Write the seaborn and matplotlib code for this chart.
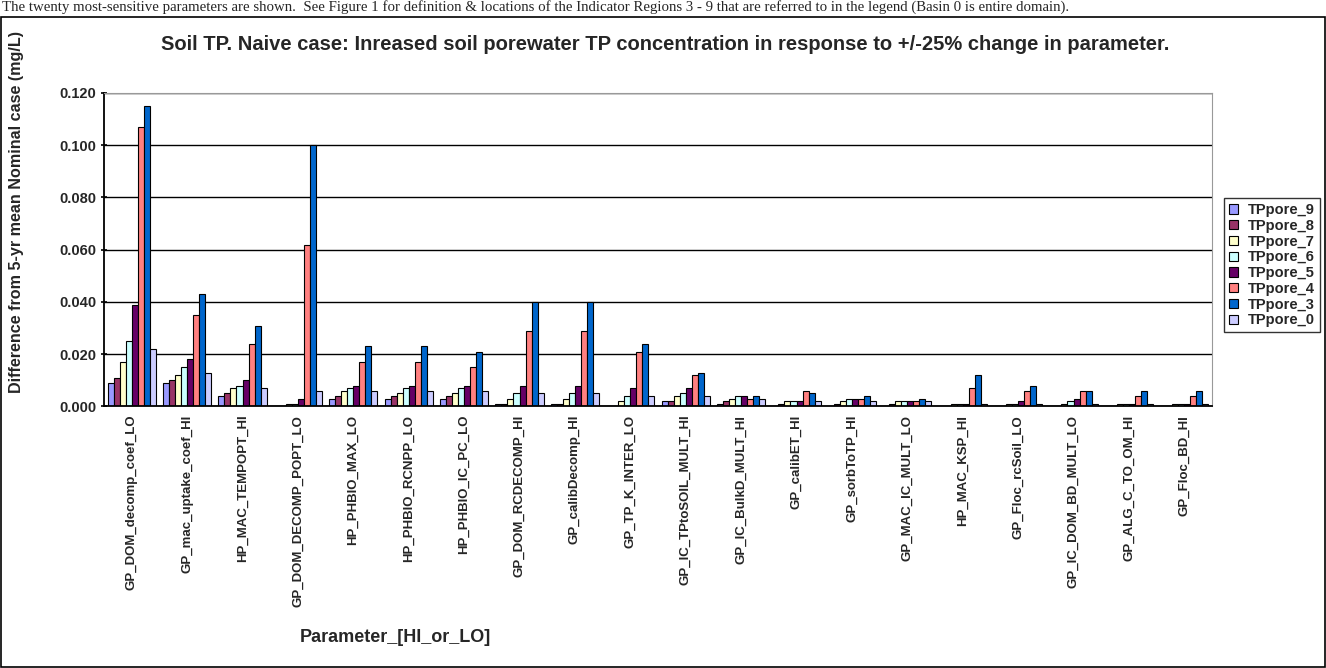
import seaborn as sns
import matplotlib.pyplot as plt
import matplotlib.patches as patches
import pandas as pd
import numpy as np

# Data
params = ['GP_DOM_decomp_coef_LO', 'GP_mac_uptake_coef_HI', 'HP_MAC_TEMPOPT_HI',
          'GP_DOM_DECOMP_POPT_LO', 'HP_PHBIO_MAX_LO', 'HP_PHBIO_RCNPP_LO',
          'HP_PHBIO_IC_PC_LO', 'GP_DOM_RCDECOMP_HI', 'GP_calibDecomp_HI',
          'GP_TP_K_INTER_LO', 'GP_IC_TPtoSOIL_MULT_HI', 'GP_IC_BulkD_MULT_HI',
          'GP_calibET_HI', 'GP_sorbToTP_HI', 'GP_MAC_IC_MULT_LO', 'HP_MAC_KSP_HI',
          'GP_Floc_rcSoil_LO', 'GP_IC_DOM_BD_MULT_LO', 'GP_ALG_C_TO_OM_HI', 'GP_Floc_BD_HI']
series = ['TPpore_9', 'TPpore_8', 'TPpore_7', 'TPpore_6',
          'TPpore_5', 'TPpore_4', 'TPpore_3', 'TPpore_0']

tp9 = [0.009, 0.009, 0.004, 0.000, 0.003, 0.003, 0.003, 0.001, 0.001, 0.000,
       0.002, 0.001, 0.000, 0.000, 0.000, 0.000, 0.000, 0.000, 0.000, 0.000]
tp8 = [0.011, 0.010, 0.005, 0.000, 0.004, 0.004, 0.004, 0.001, 0.001, 0.000,
       0.002, 0.002, 0.001, 0.001, 0.001, 0.000, 0.000, 0.000, 0.000, 0.000]
tp7 = [0.017, 0.012, 0.007, 0.001, 0.006, 0.005, 0.005, 0.003, 0.003, 0.002,
       0.004, 0.003, 0.002, 0.002, 0.002, 0.001, 0.001, 0.001, 0.001, 0.001]
tp6 = [0.025, 0.015, 0.008, 0.001, 0.007, 0.007, 0.007, 0.005, 0.005, 0.004,
       0.005, 0.004, 0.002, 0.003, 0.002, 0.001, 0.001, 0.002, 0.001, 0.001]
tp5 = [0.039, 0.018, 0.010, 0.003, 0.008, 0.008, 0.008, 0.008, 0.008, 0.007,
       0.007, 0.004, 0.002, 0.003, 0.002, 0.001, 0.002, 0.003, 0.001, 0.001]
tp4 = [0.107, 0.035, 0.024, 0.062, 0.017, 0.017, 0.015, 0.029, 0.029, 0.021,
       0.012, 0.003, 0.006, 0.003, 0.002, 0.007, 0.006, 0.006, 0.004, 0.004]
tp3 = [0.115, 0.043, 0.031, 0.100, 0.023, 0.023, 0.021, 0.040, 0.040, 0.024,
       0.013, 0.004, 0.005, 0.004, 0.003, 0.012, 0.008, 0.006, 0.006, 0.006]
tp0 = [0.022, 0.013, 0.007, 0.006, 0.006, 0.006, 0.006, 0.005, 0.005, 0.004,
       0.004, 0.003, 0.002, 0.002, 0.002, 0.001, 0.001, 0.001, 0.001, 0.001]

colors = ['#9999FF', '#993366', '#FFFFCC', '#CCFFFF',
          '#660066', '#FF8080', '#0066CC', '#CCCCFF']

values = [tp9, tp8, tp7, tp6, tp5, tp4, tp3, tp0]
df = pd.DataFrame({
    'Parameter': params * len(series),
    'Series': np.repeat(series, len(params)),
    'Value': np.concatenate(values),
})

sns.set_style('white')
plt.rcParams['font.family'] = ['Liberation Sans', 'DejaVu Sans']
plt.rcParams['font.weight'] = 'bold'

fig = plt.figure(figsize=(13.26, 6.68), dpi=100)
ax = fig.add_axes([104/1326, 1 - 406.5/668, (1212 - 104)/1326, (406.5 - 93)/668])

sns.barplot(data=df, x='Parameter', y='Value', hue='Series', palette=colors,
            edgecolor='black', linewidth=0.8, width=0.87, ax=ax, saturation=1)

# legend on the right
handles, labels = ax.get_legend_handles_labels()
ax.get_legend().remove()
leg = fig.legend(handles, labels, loc='upper left',
                 bbox_to_anchor=(1224/1326, 1 - 198/668),
                 frameon=True, fancybox=False, edgecolor='black',
                 handlelength=0.6, handleheight=0.6, handletextpad=0.7,
                 labelspacing=0.12, borderpad=0.35, borderaxespad=0,
                 prop={'size': 10.5, 'weight': 'bold'})
leg.get_frame().set_linewidth(1)

ax.set_xlim(-0.5, len(params) - 0.5)
ax.set_ylim(0, 0.12)
ax.set_yticks(np.arange(0, 0.121, 0.02))
ax.set_yticklabels([f'{v:.3f}' for v in np.arange(0, 0.121, 0.02)],
                   fontsize=10.5, fontweight='bold')
ax.yaxis.grid(True, color='black', linewidth=1)
ax.set_axisbelow(True)

ax.set_xticks(range(len(params)))
ax.set_xticklabels(params, rotation=90, fontsize=9.5, fontweight='bold')
ax.set_xticks(np.arange(0.5, len(params) - 0.5, 1), minor=True)
ax.tick_params(axis='x', which='major', length=0, pad=6)
ax.tick_params(axis='x', which='minor', length=5, width=1.2, color='black', direction='inout')
ax.tick_params(axis='y', length=5, width=1.2, color='black', direction='inout', left=True, pad=3)

ax.spines['left'].set_color('black')
ax.spines['bottom'].set_color('black')
ax.spines['left'].set_linewidth(1.3)
ax.spines['bottom'].set_linewidth(1.3)
ax.spines['top'].set_color('#999999')
ax.spines['right'].set_color('#999999')

ax.set_xlabel('')
ax.set_ylabel('')
fig.text(17/1326, 1 - 212/668, 'Difference from 5-yr mean Nominal case (mg/L)',
         rotation=90, ha='center', va='center', fontsize=11.6, fontweight='bold')
fig.text(395/1326, 1 - 638/668, 'Parameter_[HI_or_LO]',
         ha='center', va='center', fontsize=13, fontweight='bold')
fig.text(665/1326, 1 - 45/668,
         'Soil TP. Naive case: Inreased soil porewater TP concentration in response to +/-25% change in parameter.',
         ha='center', va='center', fontsize=14.5, fontweight='bold')

# caption above the chart frame
fig.text(2/1326, 1 - 7/668,
         'The twenty most-sensitive parameters are shown.  See Figure 1 for definition & locations of the '
         'Indicator Regions 3 - 9 that are referred to in the legend (Basin 0 is entire domain).',
         ha='left', va='center', fontsize=10.7, fontweight='normal',
         family=['Liberation Serif', 'DejaVu Serif'])

frame = patches.Rectangle((0.5/1326, 1/668), 1 - 1.5/1326, 1 - 18/668,
                          transform=fig.transFigure, fill=False,
                          edgecolor='black', linewidth=1.2)
fig.patches.append(frame)

fig.savefig('out.png', dpi=100)
plt.close()
